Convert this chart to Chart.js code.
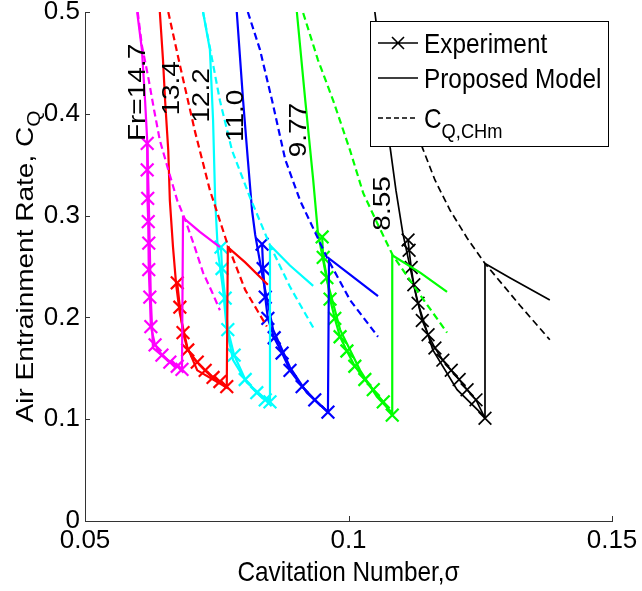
<!DOCTYPE html>
<html>
<head>
<meta charset="utf-8">
<script src="https://cdn.jsdelivr.net/npm/chart.js@4.4.1/dist/chart.umd.min.js"></script>
<style>
  html, body { margin: 0; padding: 0; background: #fff; }
  #wrap { width: 642px; height: 591px; }
</style>
</head>
<body>
<div id="wrap"><canvas id="entrainChart" width="642" height="591"></canvas></div>
<script>
const FONT = 'Arial, "Liberation Sans", sans-serif';
const SQUASH = 0.87; // the labels are set a bit narrow

const xTicks = [0.05, 0.1, 0.15];
const yTicks = [0, 0.1, 0.2, 0.3, 0.4, 0.5];

const froudeLabels = ['Fr=14.7', '13.4', '12.2', '11.0', '9.77', '8.55'];
const froudeColors = ['#ff00ff', '#ff0000', '#00ffff', '#0000ff', '#00ff00', '#000000'];
// where each Froude label sits, [sigma, C_Q]
const labelAt = [[0.0601, 0.421], [0.0665, 0.425], [0.0722, 0.418], [0.0787, 0.398], [0.0906, 0.384], [0.1066, 0.312]];

// Fr = 14.7, pairs of [sigma, C_Q]
const exp147 = [[0.0618, 0.371], [0.0618, 0.345], [0.0619, 0.317], [0.0620, 0.294], [0.0621, 0.273], [0.0621, 0.247],
  [0.0623, 0.220], [0.0625, 0.191], [0.0633, 0.173], [0.0646, 0.163], [0.0661, 0.156], [0.0675, 0.152], [0.0684, 0.149]];
const model147 = [[0.0599, 0.5], [0.0608, 0.463], [0.0614, 0.413], [0.0618, 0.374], [0.0621, 0.315], [0.0623, 0.266],
  [0.0625, 0.217], [0.0629, 0.170], [0.0652, 0.160], [0.0684, 0.149], [0.0686, 0.298], [0.0718, 0.284], [0.0756, 0.269]];
const chm147 = [[0.0600, 0.5], [0.0608, 0.467], [0.0620, 0.436], [0.0631, 0.404], [0.0642, 0.374], [0.0658, 0.345],
  [0.0675, 0.315], [0.0690, 0.296], [0.0707, 0.271], [0.0724, 0.244], [0.0741, 0.225], [0.0756, 0.207]];

// Fr = 13.4
const exp134 = [[0.0675, 0.234], [0.0680, 0.210], [0.0686, 0.185], [0.0695, 0.168], [0.0713, 0.156], [0.0728, 0.148],
  [0.0743, 0.141], [0.0756, 0.137], [0.0769, 0.132]];
const model134 = [[0.0642, 0.5], [0.0648, 0.453], [0.0652, 0.413], [0.0658, 0.364], [0.0661, 0.315], [0.0667, 0.269],
  [0.0673, 0.232], [0.0680, 0.204], [0.0694, 0.171], [0.0713, 0.148], [0.0743, 0.139], [0.0769, 0.131],
  [0.0771, 0.269], [0.0804, 0.254], [0.0847, 0.232]];
const chm134 = [[0.0658, 0.5], [0.0680, 0.448], [0.0709, 0.382], [0.0737, 0.325], [0.0771, 0.271], [0.0804, 0.227], [0.0845, 0.191]];

// Fr = 12.2
const exp122 = [[0.0758, 0.269], [0.0760, 0.248], [0.0766, 0.219], [0.0771, 0.188], [0.0783, 0.163], [0.0804, 0.139],
  [0.0826, 0.126], [0.0842, 0.119], [0.0851, 0.117]];
const model122 = [[0.0724, 0.5], [0.0737, 0.463], [0.0743, 0.394], [0.0747, 0.315], [0.0752, 0.266], [0.0762, 0.227],
  [0.0769, 0.188], [0.0781, 0.158], [0.0807, 0.136], [0.0838, 0.122], [0.0851, 0.119], [0.0851, 0.271],
  [0.0889, 0.251], [0.0933, 0.231]];
const chm122 = [[0.0724, 0.5], [0.0737, 0.465], [0.0756, 0.413], [0.0779, 0.364], [0.0813, 0.318], [0.0851, 0.271],
  [0.0889, 0.230], [0.0933, 0.190]];

// Fr = 11.0
const exp110 = [[0.0836, 0.272], [0.0838, 0.248], [0.0842, 0.220], [0.0847, 0.199], [0.0859, 0.180], [0.0874, 0.165],
  [0.0889, 0.148], [0.0912, 0.132], [0.0936, 0.119], [0.0961, 0.107]];
const model110 = [[0.0788, 0.5], [0.0800, 0.413], [0.0809, 0.355], [0.0817, 0.305], [0.0823, 0.281], [0.0838, 0.237],
  [0.0857, 0.188], [0.0889, 0.151], [0.0921, 0.126], [0.0961, 0.107], [0.0963, 0.258], [0.1003, 0.242], [0.1056, 0.221]];
const chm110 = [[0.0809, 0.5], [0.0832, 0.463], [0.0855, 0.413], [0.0880, 0.355], [0.0908, 0.315], [0.0959, 0.259],
  [0.1003, 0.217], [0.1056, 0.181]];

// Fr = 9.77
const exp977 = [[0.0950, 0.279], [0.0952, 0.259], [0.0959, 0.239], [0.0965, 0.218], [0.0974, 0.199], [0.0984, 0.181],
  [0.0997, 0.167], [0.1012, 0.152], [0.1031, 0.139], [0.1047, 0.129], [0.1066, 0.117], [0.1083, 0.104]];
const model977 = [[0.0902, 0.5], [0.0918, 0.413], [0.0933, 0.335], [0.0942, 0.283], [0.0959, 0.237], [0.0984, 0.188],
  [0.1022, 0.148], [0.1054, 0.122], [0.1083, 0.106], [0.1083, 0.261], [0.1136, 0.244], [0.1187, 0.225]];
const chm977 = [[0.0914, 0.499], [0.0942, 0.453], [0.0971, 0.413], [0.1003, 0.364], [0.1028, 0.322], [0.1056, 0.291],
  [0.1084, 0.261], [0.1136, 0.222], [0.1187, 0.185]];

// Fr = 8.55
const exp855 = [[0.1113, 0.276], [0.1115, 0.266], [0.1119, 0.249], [0.1124, 0.232], [0.1132, 0.214], [0.1140, 0.197],
  [0.1151, 0.183], [0.1164, 0.170], [0.1179, 0.158], [0.1195, 0.148], [0.1210, 0.139], [0.1225, 0.129],
  [0.1242, 0.119], [0.1259, 0.101]];
const model855 = [[0.1050, 0.5], [0.1066, 0.433], [0.1079, 0.367], [0.1090, 0.325], [0.1103, 0.283], [0.1130, 0.217],
  [0.1160, 0.168], [0.1206, 0.129], [0.1259, 0.102], [0.1259, 0.253], [0.1306, 0.239], [0.1382, 0.217]];
const chm855 = [[0.1098, 0.453], [0.1117, 0.413], [0.1140, 0.367], [0.1164, 0.335], [0.1193, 0.305], [0.1225, 0.278],
  [0.1259, 0.253], [0.1325, 0.212], [0.1382, 0.178]];

const experiments = [exp147, exp134, exp122, exp110, exp977, exp855];
const models = [model147, model134, model122, model110, model977, model855];
const chms = [chm147, chm134, chm122, chm110, chm977, chm855];

const toPoints = arr => arr.map(p => ({x: p[0], y: p[1]}));

const datasets = [];
froudeLabels.forEach((fr, i) => {
    const c = froudeColors[i];
    const w = i === 5 ? 1.7 : 2.2;
    datasets.push({
        label: 'Experiment ' + fr, data: toPoints(experiments[i]), showLine: true,
        borderColor: c, borderWidth: w, pointStyle: 'crossRot', pointRadius: 9,
        pointBorderColor: c, pointBorderWidth: w, pointBackgroundColor: c
    });
    datasets.push({
        label: 'Proposed Model ' + fr, data: toPoints(models[i]), showLine: true,
        borderColor: c, borderWidth: w, pointRadius: 0
    });
    datasets.push({
        label: 'CHm ' + fr, data: toPoints(chms[i]), showLine: true,
        borderColor: c, borderWidth: w, borderDash: [7, 4], pointRadius: 0
    });
});

// narrow text; rotated text is squashed across its height instead
function squashedText(ctx, text, x, y, size, align, baseline, rotated) {
    ctx.save();
    ctx.translate(x, y);
    if (rotated) {
        ctx.rotate(-Math.PI / 2);
        ctx.scale(1, SQUASH);
    } else {
        ctx.scale(SQUASH, 1);
    }
    ctx.font = size + 'px ' + FONT;
    ctx.textAlign = align;
    ctx.textBaseline = baseline;
    ctx.fillText(text, 0, 0);
    ctx.restore();
}

const decorations = {
    id: 'decorations',
    afterDatasetsDraw(chart) {
        const {ctx, chartArea, scales: {x, y}} = chart;
        ctx.save();

        // matlab style inward ticks
        ctx.strokeStyle = '#333';
        ctx.lineWidth = 1;
        ctx.beginPath();
        xTicks.forEach(v => {
            const px = Math.round(x.getPixelForValue(v)) + 0.5;
            ctx.moveTo(px, chartArea.bottom);
            ctx.lineTo(px, chartArea.bottom - 5);
        });
        yTicks.forEach(v => {
            const py = Math.round(y.getPixelForValue(v)) + 0.5;
            ctx.moveTo(chartArea.left, py);
            ctx.lineTo(chartArea.left + 5, py);
        });
        ctx.stroke();

        // Froude number labels, rotated
        ctx.fillStyle = '#000';
        froudeLabels.forEach((t, i) => {
            squashedText(ctx, t, x.getPixelForValue(labelAt[i][0]), y.getPixelForValue(labelAt[i][1]),
                28, 'center', 'middle', true);
        });
        ctx.restore();
    },
    afterDraw(chart) {
        const {ctx, chartArea} = chart;
        ctx.save();

        // legend box
        const lx = 370, ly = 21, lw = 238, lh = 125;
        ctx.fillStyle = '#fff';
        ctx.fillRect(lx, ly, lw, lh);
        ctx.strokeStyle = '#000';
        ctx.lineWidth = 1;
        ctx.strokeRect(lx + 0.5, ly + 0.5, lw, lh);

        ctx.lineWidth = 1.6;
        ctx.beginPath();
        ctx.moveTo(378, 43); ctx.lineTo(418, 43);
        ctx.moveTo(392, 37); ctx.lineTo(404, 49);
        ctx.moveTo(404, 37); ctx.lineTo(392, 49);
        ctx.moveTo(378, 78); ctx.lineTo(418, 78);
        ctx.stroke();
        ctx.setLineDash([5, 3]);
        ctx.beginPath();
        ctx.moveTo(378, 118); ctx.lineTo(418, 118);
        ctx.stroke();
        ctx.setLineDash([]);

        ctx.fillStyle = '#000';
        squashedText(ctx, 'Experiment', 424, 53, 28, 'left', 'alphabetic', false);
        squashedText(ctx, 'Proposed Model', 424, 88, 28, 'left', 'alphabetic', false);
        ctx.font = '28px ' + FONT;
        const wC = ctx.measureText('C').width * SQUASH;
        squashedText(ctx, 'C', 424, 128, 28, 'left', 'alphabetic', false);
        squashedText(ctx, 'Q,CHm', 424 + wC, 138, 21, 'left', 'alphabetic', false);

        // x axis title
        squashedText(ctx, 'Cavitation Number,\u03c3', (chartArea.left + chartArea.right) / 2, 581,
            28, 'center', 'alphabetic', false);

        // y axis title with subscript Q
        ctx.font = '28px ' + FONT;
        const main = 'Air Entrainment Rate, C';
        const wMain = ctx.measureText(main).width;
        ctx.font = '21px ' + FONT;
        const wSub = ctx.measureText('Q').width;
        const midY = (chartArea.top + chartArea.bottom) / 2;
        const start = midY + (wMain + wSub) / 2;
        squashedText(ctx, main, 33, start, 28, 'left', 'alphabetic', true);
        squashedText(ctx, 'Q', 33 + 8 * SQUASH, start - wMain, 21, 'left', 'alphabetic', true);
        ctx.restore();
    }
};

const noScalePadding = scale => {
    scale.paddingTop = 0;
    scale.paddingBottom = 0;
    scale.paddingLeft = 0;
    scale.paddingRight = 0;
};

new Chart(document.getElementById('entrainChart'), {
    type: 'scatter',
    data: {datasets},
    options: {
        responsive: false,
        devicePixelRatio: 1,
        animation: false,
        layout: {padding: {left: 0, right: 30, top: 12, bottom: 0}},
        elements: {line: {tension: 0}},
        plugins: {
            legend: {display: false},
            tooltip: {enabled: false}
        },
        scales: {
            x: {
                type: 'linear',
                min: 0.05,
                max: 0.15,
                afterFit(scale) { scale.height = 70; noScalePadding(scale); },
                afterBuildTicks(scale) { scale.ticks = xTicks.map(v => ({value: v})); },
                ticks: {
                    color: '#000',
                    padding: 4,
                    maxRotation: 0,
                    font: {family: FONT, size: 26},
                    callback: v => String(v)
                },
                grid: {display: false, drawTicks: false},
                border: {display: true, color: '#333', width: 1}
            },
            y: {
                type: 'linear',
                min: 0,
                max: 0.5,
                afterFit(scale) { scale.width = 85; noScalePadding(scale); },
                afterBuildTicks(scale) { scale.ticks = yTicks.map(v => ({value: v})); },
                ticks: {
                    color: '#000',
                    padding: 5,
                    font: {family: FONT, size: 26},
                    callback: v => String(v)
                },
                grid: {display: false, drawTicks: false},
                border: {display: true, color: '#333', width: 1}
            }
        }
    },
    plugins: [decorations]
});
</script>
</body>
</html>
